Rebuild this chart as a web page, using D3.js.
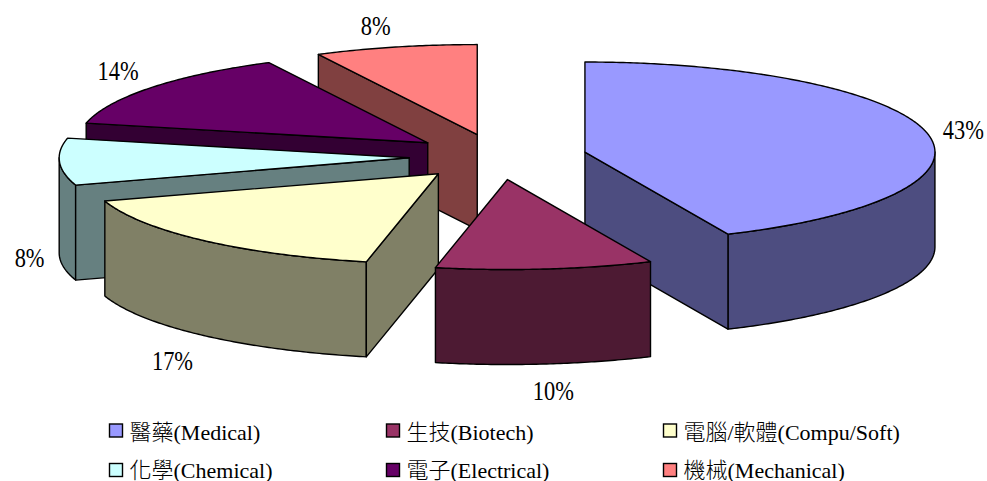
<!DOCTYPE html>
<html lang="zh-Hant">
<head>
<meta charset="utf-8">
<script src="https://cdn.jsdelivr.net/npm/d3@7/dist/d3.min.js"></script>
<style>
html,body{margin:0;padding:0;background:#fff;}
svg{display:block;}
text{font-family:"Liberation Serif","Noto Sans CJK TC",serif;fill:#000;font-weight:300;}
</style>
</head>
<body>
<svg id="chart" width="987" height="481"></svg>
<script>
// Data
const categories = ["醫藥(Medical)","生技(Biotech)","電腦/軟體(Compu/Soft)","化學(Chemical)","電子(Electrical)","機械(Mechanical)"];
const shares = [43.3,10.0,16.8,8.4,14.0,7.5];
const shareLabels = ["43%","10%","17%","8%","14%","8%"];
const topColors = ["#9999FF","#993366","#FFFFCC","#CCFFFF","#660066","#FF8080"];
const sideColors = ["#4D4D80","#4D1A33","#808066","#668080","#330033","#804040"];
// Paint order, back to front
const paintOrder = [5,4,3,2,0,1];

// Layout
const W = 987, H = 481;
const cx = 498, cy = 156.8, rx = 350, ry = 90, depth = 95, explode = 0.254;
const labelNudge = [[-5,0],[4,7],[-3,10],[12,0],[0,-5],[-10,-2]];

const svg = d3.select("#chart");
const x = d3.scaleLinear().domain([-1,1]).range([cx-rx,cx+rx]);
const y = d3.scaleLinear().domain([-1,1]).range([cy-ry,cy+ry]);
const line = d3.line();
const TAU = 2*Math.PI;

const arcs = d3.pie().sort(null).startAngle(0).endAngle(TAU)(shares);

function geom(a){
  const mid = (a.startAngle+a.endAngle)/2;
  const ox = explode*Math.sin(mid), oy = -explode*Math.cos(mid);
  const pt = (t,r=1,dz=0)=>[x(ox+r*Math.sin(t)), y(oy-r*Math.cos(t))+dz];
  return {mid,pt};
}
function arcPts(pt,t0,t1,dz){
  const n = Math.max(2,Math.ceil((t1-t0)/0.01));
  return d3.range(n+1).map(i=>pt(t0+(t1-t0)*i/n,1,dz));
}

const g = svg.append("g").attr("stroke","#000").attr("stroke-width",1.4).attr("stroke-linejoin","round");
paintOrder.forEach(i=>{
  const a = arcs[i], {pt} = geom(a), s = g.append("g");
  // outer rim: the part of the arc facing the viewer
  const r0 = Math.max(a.startAngle,Math.PI/2), r1 = Math.min(a.endAngle,Math.PI*1.5);
  if(r1>r0){
    const top = arcPts(pt,r0,r1,0), bot = arcPts(pt,r0,r1,depth).reverse();
    s.append("path").attr("d",line(top.concat(bot))+"Z").attr("fill",sideColors[i]);
  }
  // radial walls that face the viewer
  const wall = t=>{
    s.append("path").attr("fill",sideColors[i])
     .attr("d",line([pt(0,0,0),pt(t,1,0),pt(t,1,depth),pt(0,0,depth)])+"Z");
  };
  if(Math.sin(a.startAngle)<-1e-6) wall(a.startAngle);
  if(Math.sin(a.endAngle)>1e-6) wall(a.endAngle);
  // top face
  const topPts = [pt(0,0,0)].concat(arcPts(pt,a.startAngle,a.endAngle,0));
  s.append("path").attr("d",line(topPts)+"Z").attr("fill",topColors[i]);
});

// percentage labels: tall, condensed glyphs as in the reference
arcs.forEach((a,i)=>{
  const {mid,pt} = geom(a);
  const apex = pt(0,0,0);
  const rimFacing = Math.cos(mid)<-0.5 || (Math.sin(mid)<0 && Math.cos(mid)<0);
  const lx = apex[0]+1.12*rx*Math.sin(mid)+labelNudge[i][0];
  const ly = apex[1]-1.22*ry*Math.cos(mid)+(rimFacing?depth:0)+labelNudge[i][1];
  svg.append("text").attr("transform",`translate(${lx},${ly}) scale(0.83,1)`).attr("dy","0.35em")
    .attr("text-anchor","middle").attr("font-size",27)
    .text(shareLabels[i]);
});

// legend
const legX = d3.scalePoint().domain([0,1,2]).range([109.5,663.5]);
const legY = d3.scalePoint().domain([0,1]).range([424,463.5]);
const legBase = d3.scalePoint().domain([0,1]).range([440,478]);
categories.forEach((c,i)=>{
  const col = i%3, row = Math.floor(i/3);
  const l = svg.append("g").attr("transform",`translate(${legX(col)},0)`);
  l.append("rect").attr("y",legY(row)).attr("width",13).attr("height",13)
    .attr("fill",topColors[i]).attr("stroke","#000").attr("stroke-width",1.4);
  l.append("text").attr("x",20).attr("y",legBase(row)).attr("font-size",22).text(c);
});
</script>
</body>
</html>
